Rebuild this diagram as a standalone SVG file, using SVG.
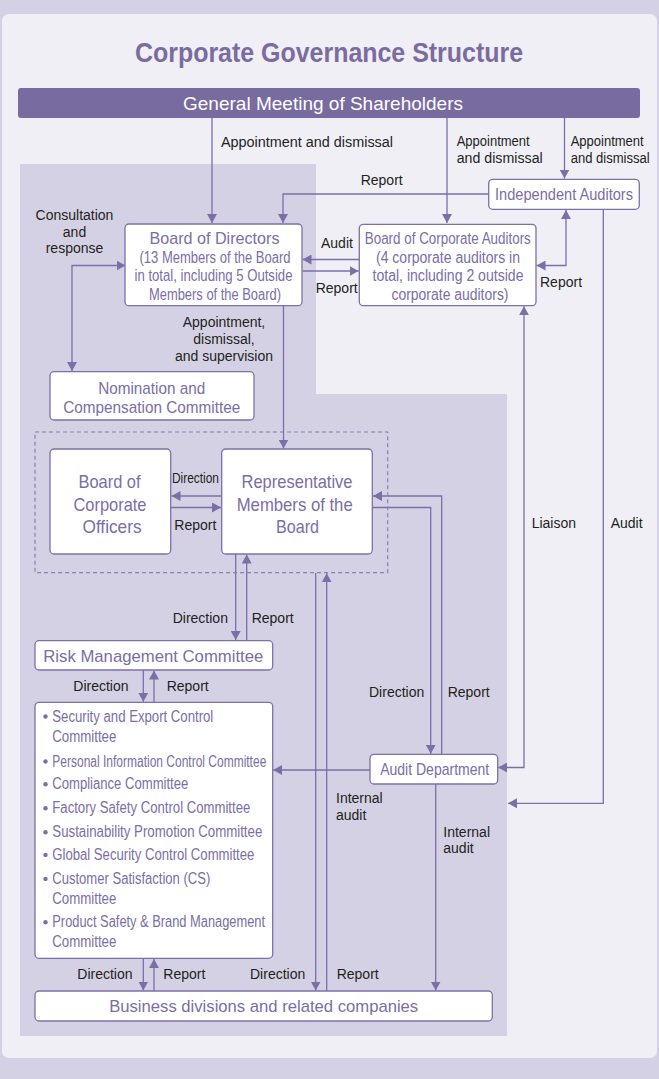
<svg xmlns="http://www.w3.org/2000/svg" width="659" height="1079" viewBox="0 0 659 1079">
<defs>
<marker id="ah" viewBox="0 0 9 10" refX="9" refY="5" markerWidth="9" markerHeight="10" markerUnits="userSpaceOnUse" orient="auto-start-reverse">
<path d="M0,0 L9,5 L0,10 z" fill="#7b6fa8"/>
</marker>
<style>
.box{fill:#fff;stroke:#7d70a8;stroke-width:1.3}
.nt{font-family:"Liberation Sans",Arial,sans-serif;fill:#7b6ea6;text-anchor:middle;font-size:17px}
.sm{font-size:16px}
.big{font-size:18.5px}
.li{font-family:"Liberation Sans",Arial,sans-serif;fill:#7b6ea6;font-size:16px}
.lb{font-family:"Liberation Sans",Arial,sans-serif;fill:#231f20;font-size:14px}
.c{text-anchor:middle}
.cn{fill:none;stroke:#7b6fa8;stroke-width:1.3}
.ar{marker-end:url(#ah)}
.ar2{marker-start:url(#ah);marker-end:url(#ah)}
</style>
</defs>
<rect x="0" y="0" width="659" height="1079" fill="#d5d1e4"/>
<rect x="2" y="14" width="655" height="1044" rx="7" fill="#f0eff6"/>
<path d="M20,164 H316 V394 H507 V1036 H20 Z" fill="#d5d1e4"/>
<text x="329" y="62" font-family="Liberation Sans,Arial,sans-serif" font-weight="bold" font-size="27" fill="#7a6ba0" text-anchor="middle" textLength="388" lengthAdjust="spacingAndGlyphs">Corporate Governance Structure</text>

<g id="gm">
<rect x="18" y="88" width="622" height="30" rx="3" fill="#786b9f"/>
<text x="323" y="110" font-family="Liberation Sans,Arial,sans-serif" font-size="19" fill="#fff" text-anchor="middle" textLength="280" lengthAdjust="spacingAndGlyphs">General Meeting of Shareholders</text>
</g>

<g id="connectors">
<path class="cn ar" d="M212,118 V223"/>
<path class="cn ar" d="M447,118 V223"/>
<path class="cn ar" d="M564.5,118 V178.5"/>
<path class="cn ar" d="M489,194 H283 V223"/>
<path class="cn ar" d="M359,259.5 H302.5"/>
<path class="cn ar" d="M302.5,271 H358.5"/>
<path class="cn ar2" d="M536.5,265.5 H566 V210"/>
<path class="cn ar2" d="M125.5,265.5 H72 V371"/>
<path class="cn ar" d="M283.5,306 V448.5"/>
<path class="cn ar" d="M221.5,496 H171.5"/>
<path class="cn ar" d="M171,507.5 H221"/>
<path class="cn ar" d="M235.7,554 V640"/>
<path class="cn ar" d="M246.7,640.5 V554.5"/>
<path class="cn ar" d="M143.3,670 V701.8"/>
<path class="cn ar" d="M154,702.3 V670.5"/>
<path class="cn ar" d="M143.3,958.5 V990.5"/>
<path class="cn ar" d="M154,991 V959"/>
<path class="cn ar" d="M372.5,507.5 H430.7 V753.8"/>
<path class="cn ar" d="M441.7,754.3 V496 H373"/>
<path class="cn ar2" d="M498.2,767.5 H524 V306.2"/>
<path class="cn ar" d="M370,770 H273.2"/>
<path class="cn ar" d="M603.3,209.5 V803.3 H508"/>
<path class="cn ar" d="M315.7,573 V990.5"/>
<path class="cn ar" d="M326.7,991 V573.3"/>
<path class="cn ar" d="M435.7,784 V990.5"/>
<rect x="35" y="432" width="352.7" height="140.7" fill="none" stroke="#8a7fb0" stroke-width="1.2" stroke-dasharray="4 3"/>
</g>

<g id="board">
<rect class="box" x="125" y="224" width="177" height="81.7" rx="4"/>
<text class="nt" x="214.5" y="244" textLength="130" lengthAdjust="spacingAndGlyphs">Board of Directors</text>
<text class="nt sm" x="215" y="262.7" textLength="151" lengthAdjust="spacingAndGlyphs">(13 Members of the Board</text>
<text class="nt sm" x="213.5" y="281.3" textLength="158" lengthAdjust="spacingAndGlyphs">in total, including 5 Outside</text>
<text class="nt sm" x="215" y="300" textLength="132" lengthAdjust="spacingAndGlyphs">Members of the Board)</text>
</g>

<g id="bca">
<rect class="box" x="359.3" y="224.3" width="176.7" height="81.4" rx="4"/>
<text class="nt sm" x="447.8" y="244" textLength="166" lengthAdjust="spacingAndGlyphs">Board of Corporate Auditors</text>
<text class="nt sm" x="448" y="262.7" textLength="144" lengthAdjust="spacingAndGlyphs">(4 corporate auditors in</text>
<text class="nt sm" x="448" y="281.3" textLength="151" lengthAdjust="spacingAndGlyphs">total, including 2 outside</text>
<text class="nt sm" x="450" y="300" textLength="117" lengthAdjust="spacingAndGlyphs">corporate auditors)</text>
</g>

<g id="ia">
<rect class="box" x="488.7" y="179.3" width="150.6" height="30" rx="4"/>
<text class="nt" x="564" y="199.5" textLength="138" lengthAdjust="spacingAndGlyphs">Independent Auditors</text>
</g>

<g id="nomination">
<rect class="box" x="50" y="371.7" width="204" height="48.3" rx="4"/>
<text class="nt" x="151.7" y="394" textLength="107" lengthAdjust="spacingAndGlyphs">Nomination and</text>
<text class="nt" x="151.7" y="412.7" textLength="177" lengthAdjust="spacingAndGlyphs">Compensation Committee</text>
</g>

<g id="bco">
<rect class="box" x="50" y="449" width="120.7" height="105" rx="4"/>
<text class="nt big" x="109.5" y="488.3" textLength="62" lengthAdjust="spacingAndGlyphs">Board of</text>
<text class="nt big" x="110" y="510.7" textLength="73" lengthAdjust="spacingAndGlyphs">Corporate</text>
<text class="nt big" x="112" y="533.3" textLength="59" lengthAdjust="spacingAndGlyphs">Officers</text>
</g>

<g id="rep">
<rect class="box" x="221.7" y="449" width="150.6" height="105" rx="4"/>
<text class="nt big" x="297" y="488.3" textLength="111" lengthAdjust="spacingAndGlyphs">Representative</text>
<text class="nt big" x="294.7" y="510.7" textLength="116" lengthAdjust="spacingAndGlyphs">Members of the</text>
<text class="nt big" x="297.5" y="533.3" textLength="43" lengthAdjust="spacingAndGlyphs">Board</text>
</g>

<g id="risk">
<rect class="box" x="35" y="640.7" width="237.7" height="29.3" rx="4"/>
<text class="nt" x="153.3" y="661.7" font-size="17.5" textLength="220" lengthAdjust="spacingAndGlyphs">Risk Management Committee</text>
</g>

<g id="committees">
<rect class="box" x="35" y="702.3" width="237.7" height="256" rx="4"/>
<g fill="#7b6ea6">
<circle cx="45.5" cy="716.5" r="2.2"/>
<circle cx="45.5" cy="761.5" r="2.2"/>
<circle cx="45.5" cy="784.2" r="2.2"/>
<circle cx="45.5" cy="808.2" r="2.2"/>
<circle cx="45.5" cy="832.2" r="2.2"/>
<circle cx="45.5" cy="854.9" r="2.2"/>
<circle cx="45.5" cy="878.9" r="2.2"/>
<circle cx="45.5" cy="922.2" r="2.2"/>
</g>
<text class="li" x="52.3" y="721.7" textLength="161" lengthAdjust="spacingAndGlyphs">Security and Export Control</text>
<text class="li" x="52.3" y="741.7" textLength="64" lengthAdjust="spacingAndGlyphs">Committee</text>
<text class="li" x="52.3" y="766.7" textLength="214" lengthAdjust="spacingAndGlyphs">Personal Information Control Committee</text>
<text class="li" x="52.3" y="789.3" textLength="136" lengthAdjust="spacingAndGlyphs">Compliance Committee</text>
<text class="li" x="52.3" y="813.3" textLength="198" lengthAdjust="spacingAndGlyphs">Factory Safety Control Committee</text>
<text class="li" x="52.3" y="837.3" textLength="210" lengthAdjust="spacingAndGlyphs">Sustainability Promotion Committee</text>
<text class="li" x="52.3" y="860" textLength="202" lengthAdjust="spacingAndGlyphs">Global Security Control Committee</text>
<text class="li" x="52.3" y="884" textLength="158" lengthAdjust="spacingAndGlyphs">Customer Satisfaction (CS)</text>
<text class="li" x="52.3" y="904" textLength="64" lengthAdjust="spacingAndGlyphs">Committee</text>
<text class="li" x="52.3" y="927.3" textLength="212.7" lengthAdjust="spacingAndGlyphs">Product Safety &amp; Brand Management</text>
<text class="li" x="52.3" y="947.3" textLength="64" lengthAdjust="spacingAndGlyphs">Committee</text>
</g>

<g id="audit-dept">
<rect class="box" x="370" y="754.3" width="127.7" height="29.7" rx="4"/>
<text class="nt" x="434.7" y="775" textLength="109" lengthAdjust="spacingAndGlyphs">Audit Department</text>
</g>

<g id="business">
<rect class="box" x="35" y="991" width="457.3" height="30" rx="4"/>
<text class="nt" x="263.7" y="1011.7" font-size="17.5" textLength="309" lengthAdjust="spacingAndGlyphs">Business divisions and related companies</text>
</g>

<g id="labels">
<text class="lb" x="221" y="147" textLength="172" lengthAdjust="spacingAndGlyphs">Appointment and dismissal</text>
<text class="lb" x="456.7" y="146" textLength="73" lengthAdjust="spacingAndGlyphs">Appointment</text>
<text class="lb" x="456.7" y="162.7" textLength="86" lengthAdjust="spacingAndGlyphs">and dismissal</text>
<text class="lb" x="570.7" y="146" textLength="73" lengthAdjust="spacingAndGlyphs">Appointment</text>
<text class="lb" x="570.7" y="162.7" textLength="79" lengthAdjust="spacingAndGlyphs">and dismissal</text>
<text class="lb" x="360.7" y="185">Report</text>
<text class="lb c" x="74.5" y="220">Consultation</text>
<text class="lb c" x="74.5" y="236.7">and</text>
<text class="lb c" x="74.5" y="253.3">response</text>
<text class="lb" x="321" y="247.7">Audit</text>
<text class="lb" x="315.7" y="293.3">Report</text>
<text class="lb" x="540" y="286.7">Report</text>
<text class="lb c" x="224" y="327.3">Appointment,</text>
<text class="lb c" x="224" y="344">dismissal,</text>
<text class="lb c" x="224" y="360.7">and supervision</text>
<text class="lb" x="172" y="483.3" font-size="13" textLength="47" lengthAdjust="spacingAndGlyphs">Direction</text>
<text class="lb" x="174.3" y="530">Report</text>
<text class="lb" x="531.7" y="528.3">Liaison</text>
<text class="lb" x="610.7" y="528.3">Audit</text>
<text class="lb" x="172.7" y="622.7">Direction</text>
<text class="lb" x="251.7" y="622.7">Report</text>
<text class="lb" x="73.3" y="690.7">Direction</text>
<text class="lb" x="166.7" y="690.7">Report</text>
<text class="lb" x="369" y="697.3">Direction</text>
<text class="lb" x="447.7" y="697.3">Report</text>
<text class="lb" x="336" y="803.3">Internal</text>
<text class="lb" x="336" y="820">audit</text>
<text class="lb" x="443.3" y="836.7">Internal</text>
<text class="lb" x="443.3" y="853.3">audit</text>
<text class="lb" x="77.3" y="979.3">Direction</text>
<text class="lb" x="163.3" y="979.3">Report</text>
<text class="lb" x="250" y="979.3">Direction</text>
<text class="lb" x="336.7" y="979.3">Report</text>
</g>
</svg>
